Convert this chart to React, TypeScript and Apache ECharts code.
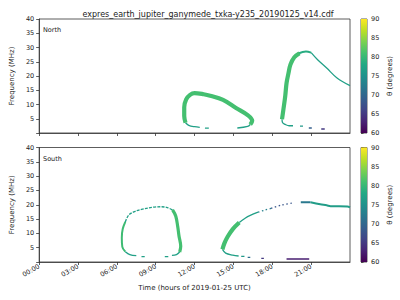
import React, { useEffect, useRef } from "react";
import * as echarts from "echarts";

const TITLE = "expres_earth_jupiter_ganymede_txka-y235_20190125_v14.cdf";
const X_NAME = "Time (hours of 2019-01-25 UTC)";
const Y_NAME = "Frequency (MHz)";
const C_NAME = "θ (degrees)";
const PANELS = ["North", "South"];

const timeRange = [0, 24];
const timeTicks = [0, 3, 6, 9, 12, 15, 18, 21];
const timeLabels = ["00:00", "03:00", "06:00", "09:00", "12:00", "15:00", "18:00", "21:00"];
const freqRange = [0, 40];
const freqStep = 5;
const thetaRange = [60, 90];
const thetaStep = 5;

// ---- North curves: [hour, frequency MHz] ----
const nLoopBand = [[11.3, 3.6], [11.2, 6], [11.2, 9], [11.35, 11.8], [11.65, 13.4], [12.0, 14.0], [12.7, 13.6], [13.2, 13.1], [14.2, 11.6], [15.2, 8.8], [16.1, 6.3], [16.45, 4.3], [16.3, 3.0]];
const nLoopTailL = [[11.3, 3.6], [11.55, 2.7], [12.0, 2.2], [12.4, 2.0]];
const nLoopDashL = [[12.8, 1.7], [13.1, 1.7]];
const nLoopTailR = [[16.3, 3.0], [16.1, 2.3], [15.3, 1.75]];
const nPeakBand = [[18.75, 4.8], [18.85, 8], [19.0, 13], [19.1, 17.5], [19.25, 21], [19.4, 24], [19.7, 26.6], [20.1, 28.0]];
const nPeakTop = [[20.0, 27.9], [20.6, 28.6], [21.0, 28.2]];
const nPeakTail = [[21.0, 28.2], [21.5, 25.7], [22.2, 22.8], [23.0, 19.3], [24, 16.6]];
const nPeakFoot = [[18.75, 4.8], [18.8, 3.6], [19.0, 3.0], [19.3, 2.55], [19.6, 2.55]];
const nDash1 = [[20.14, 2.4], [20.37, 2.4]];
const nDash2 = [[20.82, 1.75], [21.05, 1.75]];
const nDash3 = [[21.78, 1.4], [22.05, 1.4]];

// ---- South curves ----
const sLoopLeft = [[6.65, 14.0], [6.45, 11.5], [6.38, 8.5], [6.42, 5.3], [6.65, 3.6]];
const sLoopTop = [[6.65, 14.0], [6.9, 16.3], [7.3, 17.5], [7.9, 18.4], [8.9, 19.2], [9.4, 19.3], [9.9, 19.0], [10.3, 18.2]];
const sLoopRight = [[10.3, 18.2], [10.55, 16], [10.7, 12.3], [10.8, 9], [10.93, 5.5], [10.85, 3.5]];
const sLoopFootR = [[10.85, 3.5], [10.6, 2.6], [10.25, 2.3]];
const sLoopDashR = [[9.7, 1.85], [9.97, 1.85]];
const sLoopFootL = [[6.65, 3.6], [7.0, 2.6], [7.5, 2.2]];
const sLoopDashL = [[7.9, 1.9], [8.15, 1.9]];
const sArcBand = [[14.15, 4.4], [14.3, 6.5], [14.55, 8.8], [14.95, 11.5], [15.45, 13.8]];
const sArcUpper = [[15.45, 13.8], [15.9, 15.3], [16.3, 16.3], [16.9, 17.4]];
const sArcDots1 = [[16.9, 17.4], [17.4, 18.1], [17.9, 18.7]];
const sArcDots2 = [[17.9, 18.7], [18.7, 19.9], [19.6, 20.6]];
const sArcFlat1 = [[20.2, 20.9], [20.95, 20.9]];
const sArcFlat2 = [[20.95, 20.9], [21.7, 20.2], [22.2, 19.8], [22.5, 19.5], [23.8, 19.4], [24, 19.1]];
const sArcFoot = [[14.15, 4.4], [14.4, 3.1], [14.95, 2.4], [15.4, 2.1]];
const sDash1 = [[15.6, 2.0], [15.85, 2.0]];
const sDash2 = [[16.1, 1.65], [16.3, 1.65]];
const sDash3 = [[17.15, 1.3], [17.35, 1.3]];
const sDash4 = [[19.1, 1.05], [20.85, 1.05]];

// theta (degrees) of each curve, and a drawing kind
const northCurves = [
  { pts: nLoopTailL, theta: 77, kind: "thin" },
  { pts: nLoopDashL, theta: 77, kind: "thin" },
  { pts: nLoopTailR, theta: 77, kind: "thin" },
  { pts: nLoopBand, theta: 81, kind: "band" },
  { pts: nPeakFoot, theta: 77, kind: "thin" },
  { pts: nDash1, theta: 76, kind: "thin" },
  { pts: nDash2, theta: 69, kind: "thin" },
  { pts: nDash3, theta: 65, kind: "thin" },
  { pts: nPeakTail, theta: 77, kind: "thin" },
  { pts: nPeakTop, theta: 78.5, kind: "mid" },
  { pts: nPeakBand, theta: 81, kind: "band" },
];
const southCurves = [
  { pts: sLoopTop, theta: 77, kind: "dashed" },
  { pts: sLoopLeft, theta: 80.5, kind: "mid" },
  { pts: sLoopRight, theta: 81, kind: "band3" },
  { pts: sLoopFootR, theta: 77, kind: "thin" },
  { pts: sLoopDashR, theta: 77, kind: "thin" },
  { pts: sLoopFootL, theta: 77, kind: "thin" },
  { pts: sLoopDashL, theta: 77, kind: "thin" },
  { pts: sArcUpper, theta: 77, kind: "thin" },
  { pts: sArcDots1, theta: 73, kind: "dotted" },
  { pts: sArcDots2, theta: 68, kind: "dotted" },
  { pts: sArcFlat1, theta: 72, kind: "mid" },
  { pts: sArcFlat2, theta: 76.5, kind: "mid" },
  { pts: sArcFoot, theta: 77, kind: "thin" },
  { pts: sDash1, theta: 76, kind: "thin" },
  { pts: sDash2, theta: 71, kind: "thin" },
  { pts: sDash3, theta: 65, kind: "thin" },
  { pts: sDash4, theta: 62.5, kind: "thin" },
  { pts: sArcBand, theta: 81, kind: "band" },
];

const STYLE: Record<string, any> = {
  band: { width: 4.2, type: "solid" },
  band3: { width: 3.2, type: "solid" },
  mid: { width: 2, type: "solid" },
  thin: { width: 1.3, type: "solid" },
  dashed: { width: 1.3, type: [3, 1.2] },
  dotted: { width: 1.3, type: [1.5, 2.5] },
};

const VIRIDIS = ["#440154", "#482475", "#414487", "#355f8d", "#2a788e", "#21918c", "#22a884", "#44bf70", "#7ad151", "#bddf26", "#fde725"];

function hex(c: string) {
  return [1, 3, 5].map((i) => parseInt(c.slice(i, i + 2), 16));
}
function thetaColor(t: number) {
  const u = Math.max(0, Math.min(1, (t - thetaRange[0]) / (thetaRange[1] - thetaRange[0])));
  const p = u * (VIRIDIS.length - 1);
  const i = Math.min(VIRIDIS.length - 2, Math.floor(p));
  const f = p - i;
  const a = hex(VIRIDIS[i]);
  const b = hex(VIRIDIS[i + 1]);
  const m = a.map((v, k) => Math.round(v + (b[k] - v) * f));
  return `rgb(${m[0]},${m[1]},${m[2]})`;
}

const FONT = "DejaVu Sans";
const TXT = "#222";
const AX = "#333";

export default function App() {
  const ref = useRef<HTMLDivElement>(null);
  useEffect(() => {
    if (!ref.current) return;
    const chart = echarts.init(ref.current, null, { renderer: "svg" });
    const grids = [
      { left: 31.7, top: 19, width: 318.3, height: 114 },
      { left: 31.7, top: 147.5, width: 318.3, height: 114.5 },
      { left: 361, top: 19, width: 6, height: 114 },
      { left: 361, top: 147.5, width: 6, height: 114.5 },
    ].map((g) => ({ ...g, show: true, borderColor: AX, borderWidth: 0.8, backgroundColor: "transparent" }));

    const xAxes: any[] = [0, 1].map((i) => ({
      gridIndex: i,
      type: "value",
      min: timeRange[0],
      max: timeRange[1],
      interval: 3,
      axisLine: { show: true, lineStyle: { color: AX, width: 0.8 } },
      axisTick: { show: true, length: 3, lineStyle: { color: AX, width: 0.8 }, customValues: timeTicks },
      splitLine: { show: false },
      axisLabel: {
        show: i === 1,
        customValues: timeTicks,
        rotate: 30,
        fontSize: 6.5,
        fontFamily: FONT,
        color: TXT,
        margin: 4,
        formatter: (v: number) => timeLabels[timeTicks.indexOf(v)] ?? "",
      },
      name: i === 1 ? X_NAME : "",
      nameLocation: "middle",
      nameGap: 22,
      nameTextStyle: { fontSize: 7, fontFamily: FONT, color: TXT },
    }));
    const yAxes: any[] = [0, 1].map((i) => ({
      gridIndex: i,
      type: "value",
      min: freqRange[0],
      max: freqRange[1],
      interval: freqStep,
      axisLine: { show: true, lineStyle: { color: AX, width: 0.8 } },
      axisTick: { show: true, length: 3, lineStyle: { color: AX, width: 0.8 } },
      splitLine: { show: false },
      axisLabel: { fontSize: 6.5, fontFamily: FONT, color: TXT, margin: 5, formatter: (v: number) => (v === 0 ? "" : String(v)) },
      name: Y_NAME,
      nameLocation: "middle",
      nameGap: 18,
      nameTextStyle: { fontSize: 7, fontFamily: FONT, color: TXT },
    }));
    [2, 3].forEach((i) => {
      xAxes.push({ gridIndex: i, type: "value", min: 0, max: 1, show: false });
      yAxes.push({
        gridIndex: i,
        type: "value",
        position: "right",
        min: thetaRange[0],
        max: thetaRange[1],
        interval: thetaStep,
        axisLine: { show: false },
        axisTick: { show: true, length: 2.5, lineStyle: { color: AX, width: 0.8 } },
        splitLine: { show: false },
        axisLabel: { fontSize: 6.5, fontFamily: FONT, color: TXT, margin: 4 },
        name: C_NAME,
        nameLocation: "middle",
        nameGap: 19,
        nameRotate: 90,
        nameTextStyle: { fontSize: 7, fontFamily: FONT, color: TXT },
      });
    });

    const series: any[] = [];
    [northCurves, southCurves].forEach((curves, pi) => {
      curves.forEach((c) => {
        const st = STYLE[c.kind];
        series.push({
          type: "line",
          xAxisIndex: pi,
          yAxisIndex: pi,
          data: c.pts,
          smooth: c.pts.length > 2 ? 0.35 : false,
          symbol: "none",
          silent: true,
          lineStyle: { color: thetaColor(c.theta), width: st.width, type: st.type, cap: "butt", join: "round" },
        });
      });
    });
    const stops = VIRIDIS.map((col, k) => ({ offset: 1 - k / (VIRIDIS.length - 1), color: col })).reverse();
    [2, 3].forEach((i) => {
      series.push({
        type: "custom",
        xAxisIndex: i,
        yAxisIndex: i,
        silent: true,
        data: [[0, thetaRange[1], 1, thetaRange[0]]],
        renderItem: (_p: any, api: any) => {
          const a = api.coord([api.value(0), api.value(1)]);
          const b = api.coord([api.value(2), api.value(3)]);
          return {
            type: "rect",
            shape: { x: a[0], y: a[1], width: b[0] - a[0], height: b[1] - a[1] },
            style: { fill: new echarts.graphic.LinearGradient(0, 0, 0, 1, stops) },
          };
        },
      });
    });

    chart.setOption({
      animation: false,
      backgroundColor: "#fff",
      title: {
        text: TITLE,
        left: 203,
        textAlign: "center",
        top: 5,
        textStyle: { fontSize: 8, fontWeight: "normal", fontFamily: FONT, color: TXT },
      },
      grid: grids,
      xAxis: xAxes,
      yAxis: yAxes,
      series,
      graphic: PANELS.map((t, i) => ({
        type: "text",
        left: 43,
        top: i === 0 ? 26 : 155,
        style: { text: t, fontSize: 6.5, fontFamily: FONT, fill: TXT },
      })),
    });
    return () => chart.dispose();
  }, []);
  return <div ref={ref} style={{ width: 400, height: 300, position: "absolute", left: 0, top: 0 }} />;
}
